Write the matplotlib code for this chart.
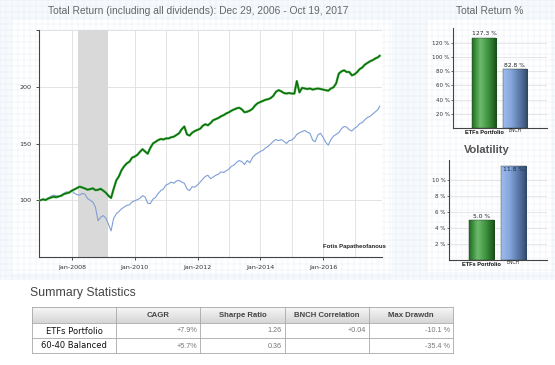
import numpy as np
import pandas as pd
import matplotlib.pyplot as plt
from matplotlib.patches import Rectangle
from matplotlib.colors import LinearSegmentedColormap

# monthly closes, Dec 2006 .. Oct 2017
etf_values = [
    100.0,
    100.8, 100.2, 101.5, 102.3, 103.1, 102.6, 103.4, 104.0, 105.5, 106.2, 106.8, 108.5,
    109.6, 110.8, 112.0, 111.2, 110.4, 109.3, 109.8, 110.5, 108.9, 109.2, 110.1, 108.4,
    106.5, 104.0, 102.0, 110.0, 117.5, 121.0, 126.5, 130.0, 132.5, 134.0, 137.5, 138.5,
    140.0, 142.5, 145.0, 143.0, 141.0, 146.0, 150.0, 151.5, 153.0, 154.0, 153.5, 154.5,
    154.5, 155.5, 156.0, 157.5, 159.0, 162.5, 165.0, 158.0, 157.0, 159.5, 161.0, 162.0,
    163.0, 165.5, 167.0, 166.0, 168.0, 170.5, 171.5, 172.5, 174.0, 175.0, 176.5, 177.5,
    179.0, 180.0, 181.0, 181.5, 180.0, 177.5, 178.0, 179.0, 180.5, 183.5, 185.5, 186.5,
    187.5, 188.5, 189.0, 190.0, 192.0, 195.5, 197.0, 196.0, 194.5, 194.0, 194.5, 194.0,
    194.0, 205.0, 195.0, 199.0, 198.5, 198.0, 198.5, 197.5, 198.0, 198.5, 198.0, 197.5,
    197.0, 196.5, 198.5, 199.5, 203.0, 211.5, 213.5, 214.5, 213.0, 213.0, 210.0, 211.0,
    213.0, 215.5, 217.0, 219.5, 221.0, 222.5, 223.5, 225.0, 226.0, 227.3,
]
bnch_values = [
    100.0,
    101.0, 100.5, 102.0, 103.5, 104.5, 104.0, 103.0, 104.5, 106.0, 107.5, 106.5, 108.5,
    106.0, 105.0, 104.5, 106.0, 105.5, 101.5, 100.0, 98.5, 94.0, 82.0, 85.0, 86.5,
    84.0, 79.0, 73.0, 84.0, 88.0, 90.0, 92.5, 94.0, 95.5, 96.0, 98.5, 99.5,
    100.5, 101.5, 104.0, 103.0, 97.5, 97.0, 101.0, 102.5, 106.0, 108.5, 110.0, 113.5,
    114.5, 116.0, 115.0, 117.0, 117.5, 116.0, 115.0, 110.0, 108.5, 112.0, 111.5, 113.5,
    116.0, 118.5, 121.0, 122.0, 119.0, 120.5, 122.0, 123.0, 125.0, 124.5, 126.0, 127.5,
    130.0, 131.0, 133.5, 135.0, 134.0, 131.5, 135.0, 133.0, 137.5, 140.0, 141.5, 143.0,
    144.0, 146.0, 147.5, 149.5, 152.0, 153.5, 152.5, 153.5, 152.0, 150.0, 152.5, 153.0,
    155.0, 158.0, 159.5, 160.5, 161.5, 160.0, 159.0, 153.0, 151.5, 157.5, 159.0, 155.5,
    151.0, 148.5, 153.5, 156.5, 158.0, 159.5, 163.0, 165.0, 164.5, 162.0, 161.0, 163.5,
    165.0, 167.5, 168.5, 171.0, 173.0, 174.0, 176.0, 178.0, 180.0, 182.8,
]

bar_names = ['ETFs Portfolio', 'BNCH']
total_return = [127.3, 82.8]
volatility = [5.0, 11.8]

stat_cols = ['CAGR', 'Sharpe Ratio', 'BNCH Correlation', 'Max Drawdn']
stat_rows = ['ETFs Portfolio', '60-40 Balanced']
stat_vals = [['+7.9%', '1.26', '+0.04', '-10.1 %'],
             ['+5.7%', '0.36', '', '-35.4 %']]

dates = list(pd.date_range('2006-12-31', '2017-10-31', freq='ME'))
dates[0] = pd.Timestamp('2006-12-29')
dates[-1] = pd.Timestamp('2017-10-19')

W, H = 555, 365
fig = plt.figure(figsize=(W / 100, H / 100), dpi=100)
fig.patch.set_facecolor('white')

def frac(x0, y0, x1, y1):
    # pixel box -> figure fraction rect
    return [x0 / W, 1 - y1 / H, (x1 - x0) / W, (y1 - y0) / H]

# background: graph paper + white panels
bg = fig.add_axes([0, 0, 1, 1], zorder=-5)
bg.set_xlim(0, W)
bg.set_ylim(H, 0)
bg.axis('off')
bg.add_patch(Rectangle((0, 0), W, 280, color='#f7fafd', lw=0))
for gx in np.arange(0, W, 6):
    bg.plot([gx, gx], [0, 280], color='#e4edf6', lw=0.35)
for gy in np.arange(0, 280, 6):
    bg.plot([0, W], [gy, gy], color='#e4edf6', lw=0.35)
bg.add_patch(Rectangle((12, 20), 380, 253, color='white', lw=0))
bg.add_patch(Rectangle((428, 20), 124, 252, color='white', lw=0))

fig.text(198 / W, 1 - 11 / H, 'Total Return (including all dividends): Dec 29, 2006 - Oct 19, 2017',
         ha='center', va='center', fontsize=7.4, color='#666666', family='Liberation Sans')
fig.text(490 / W, 1 - 11 / H, 'Total Return %', ha='center', va='center',
         fontsize=7.4, color='#666666', family='Liberation Sans')
fig.text(487 / W, 1 - 150 / H, 'Volatility', ha='center', va='center',
         fontsize=8, color='#555555', family='Liberation Sans', weight='bold')

# ---- main line chart
ax = fig.add_axes(frac(39, 30, 382, 257))
ax.set_facecolor('white')
ax.axvspan(pd.Timestamp('2008-03-07'), pd.Timestamp('2009-03-01'), color='#d9d9d9', lw=0, zorder=1)
ax.plot(dates, bnch_values, color='#7f9fd6', lw=0.8, zorder=3)
ax.plot(dates, etf_values, color='#46b046', lw=1.7, zorder=4, solid_joinstyle='round')
ax.plot(dates, etf_values, color='#0b6a0b', lw=0.9, zorder=5, solid_joinstyle='round')
ax.set_xlim(pd.Timestamp('2006-12-14'), pd.Timestamp('2017-11-15'))
ax.set_ylim(50, 250)
ax.set_yticks([100, 150, 200, 250])
ax.set_yticklabels(['100', '150', '200', ''])
major = [pd.Timestamp(f'{y}-01-01') for y in range(2008, 2017, 2)]
minor = [pd.Timestamp(f'{y}-01-01') for y in range(2009, 2018, 2)]
ax.set_xticks(major)
ax.set_xticklabels([d.strftime('Jan-%Y') for d in major])
ax.set_xticks(minor, minor=True)
ax.grid(True, which='both', color='#dedede', lw=0.6, zorder=0)
ax.set_axisbelow(True)
ax.tick_params(axis='both', which='both', labelsize=4.6, colors='#333333', length=2, width=0.6)
ax.tick_params(axis='x', which='minor', length=0)
for s in ['top', 'right']:
    ax.spines[s].set_visible(False)
for s in ['left', 'bottom']:
    ax.spines[s].set_color('#444444')
    ax.spines[s].set_linewidth(0.8)
ax.text(0.92, 0.045, 'Fotis Papatheofanous', transform=ax.transAxes, ha='center', va='center',
        fontsize=4.3, weight='bold', color='#222222', family='Liberation Sans')

# ---- bar panels
green_cmap = LinearSegmentedColormap.from_list('g', ['#1f6e1f', '#6dbb6d', '#3c913c', '#174f17'])
blue_cmap = LinearSegmentedColormap.from_list('b', ['#9dbdf0', '#86a6dc', '#5a78a8', '#334a70'])

def bar_panel(rect, values, ymax, yticks, inside_last):
    bx = fig.add_axes(rect)
    bx.set_facecolor('none')
    bars = bx.bar(range(len(values)), values, width=0.8, color='none', zorder=3)
    grad = np.linspace(0, 1, 64).reshape(1, -1)
    for b, cm in zip(bars, [green_cmap, blue_cmap]):
        x0, w, h = b.get_x(), b.get_width(), b.get_height()
        im = bx.imshow(grad, cmap=cm, aspect='auto', extent=(x0, x0 + w, 0, h), zorder=3)
        im.set_clip_path(b)
        bx.add_patch(Rectangle((x0, 0), w, h, fill=False, ec='#2a3a2a', lw=0.3, zorder=4))
    for i, v in enumerate(values):
        if inside_last and i == len(values) - 1:
            bx.text(i, v - ymax * 0.012, f'{v:.1f} %', ha='center', va='top', fontsize=4.3,
                    color='#1a2a40', zorder=5)
        else:
            bx.text(i, v + ymax * 0.015, f'{v:.1f} %', ha='center', va='bottom', fontsize=4.3,
                    color='#222222', zorder=5)
    bx.set_xlim(-1.02, 2.05)
    bx.set_ylim(0, ymax)
    bx.set_yticks(yticks)
    bx.set_yticklabels([f'{t} %' for t in yticks])
    bx.set_xticks([])
    bx.grid(True, axis='y', color='#e2e2e2', lw=0.6)
    bx.set_axisbelow(True)
    bx.tick_params(axis='y', labelsize=4, colors='#333333', length=1.5, width=0.5, pad=1)
    for s in ['top', 'right']:
        bx.spines[s].set_visible(False)
    for s in ['left', 'bottom']:
        bx.spines[s].set_color('#444444')
        bx.spines[s].set_linewidth(0.8)
    bx.text(0, -ymax * 0.02, bar_names[0], ha='center', va='top', fontsize=4.1,
            weight='bold', color='#111111', family='Liberation Sans')
    bx.text(1, -ymax * 0.005, bar_names[1], ha='center', va='top', fontsize=3.3,
            color='#222222', family='Liberation Sans')
    return bx

bar_panel(frac(453, 28, 547, 128), total_return, 141, [20, 40, 60, 80, 100, 120], False)
bar_panel(frac(449, 160, 547, 260), volatility, 12.5, [2, 4, 6, 8, 10], True)

# ---- summary table
fig.text(30 / W, 1 - 293 / H, 'Summary Statistics', ha='left', va='center',
         fontsize=8.8, color='#444444', family='Liberation Sans')
col_x = [32, 116, 200, 285, 369, 453]
row_y = [307, 323, 338, 353]
hdr = np.linspace(0, 1, 32).reshape(-1, 1)
bg.imshow(hdr, cmap=LinearSegmentedColormap.from_list('h', ['#f7f7f7', '#d6d6d6']),
          aspect='auto', extent=(col_x[0], col_x[-1], row_y[1], row_y[0]), zorder=1)
for yy in row_y:
    bg.plot([col_x[0], col_x[-1]], [yy, yy], color='#a8a8a8', lw=0.6, zorder=2)
for xx in col_x:
    bg.plot([xx, xx], [row_y[0], row_y[-1]], color='#a8a8a8', lw=0.6, zorder=2)
for j, c in enumerate(stat_cols):
    bg.text((col_x[j + 1] + col_x[j + 2]) / 2, (row_y[0] + row_y[1]) / 2 + 0.5, c,
            ha='center', va='center', fontsize=5.6, weight='bold', color='#444444',
            family='Liberation Sans', zorder=3)
for i, r in enumerate(stat_rows):
    yc = (row_y[i + 1] + row_y[i + 2]) / 2 + 0.5
    bg.text((col_x[0] + col_x[1]) / 2, yc, r, ha='center', va='center', fontsize=6,
            color='#111111', family='DejaVu Sans', zorder=3)
    for j, v in enumerate(stat_vals[i]):
        bg.text(col_x[j + 2] - 3, yc, v, ha='right', va='center', fontsize=5.2,
                color='#777777', family='Liberation Sans', zorder=3)

fig.savefig('out.png', dpi=100)
